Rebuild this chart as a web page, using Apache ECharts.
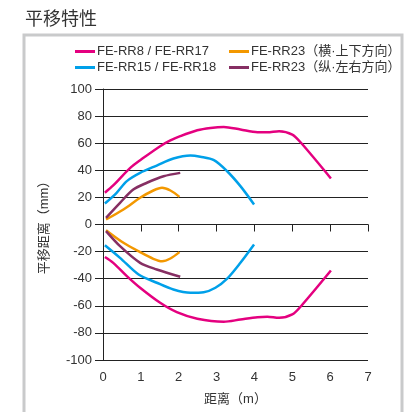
<!DOCTYPE html>
<html><head><meta charset="utf-8">
<script src="https://cdn.jsdelivr.net/npm/echarts@6/dist/echarts.min.js"></script>
<style>html,body{margin:0;padding:0;background:#fff}#c{width:419px;height:412px}</style>
</head><body><div id="c"></div>
<script>
const chartTitle = '平移特性';
const xTicks = [0,1,2,3,4,5,6,7];
const yTicks = [-100,-80,-60,-40,-20,0,20,40,60,80,100];
const seriesNames = ['FE-RR8 / FE-RR17','FE-RR15 / FE-RR18','FE-RR23（横·上下方向）','FE-RR23（纵·左右方向）'];
const seriesColors = ['#e4007f','#00a0e9','#f39800','#862f63'];

const rr8Upper = [[0.05,23.5],[0.27,28.8],[0.72,41.8],[1.07,49.2],[1.51,57.8],[1.78,62],[2.04,65.2],[2.49,69.6],[2.84,71.3],[3.19,72],[3.63,70.1],[4.08,68.1],[4.34,68.1],[4.65,68.9],[5.0,66.4],[5.23,60.3],[6.02,34]];
const rr8Lower = [[0.05,-24],[0.27,-28.3],[0.63,-38.1],[0.98,-46.7],[1.51,-57.8],[1.95,-64.7],[2.49,-69.6],[3.19,-71.8],[3.63,-70.1],[4.08,-68.4],[4.34,-68.1],[4.65,-68.9],[5.0,-66.4],[5.23,-60.3],[6.02,-34]];
const rr15Upper = [[0.05,15.5],[0.36,23.4],[0.63,32],[0.98,38.1],[1.42,43.5],[1.86,48.7],[2.31,50.9],[2.57,50],[2.93,47.5],[3.28,39.3],[3.63,28.3],[3.99,14.8]];
const rr15Lower = [[0.05,-15.3],[0.45,-24.6],[0.94,-36.9],[1.42,-43],[1.86,-48],[2.31,-50.4],[2.66,-50],[2.97,-46.7],[3.28,-40],[3.63,-28.3],[3.99,-14.8]];
const rr23hUpper = [[0.08,3.7],[0.54,11.1],[0.98,19.7],[1.33,25.1],[1.56,27.1],[1.78,25.1],[2.02,20.4]];
const rr23hLower = [[0.08,-4.2],[0.54,-13.5],[0.98,-20.4],[1.33,-25.3],[1.56,-27.1],[1.78,-25.1],[2.02,-20.4]];
const rr23vUpper = [[0.08,4.9],[0.45,16],[0.8,25.8],[1.16,30.8],[1.6,35.6],[2.04,38.1]];
const rr23vLower = [[0.08,-4.9],[0.45,-16],[0.98,-28.3],[1.42,-33.2],[2.04,-38.6]];

const branches = [
  [rr8Upper, rr8Lower],
  [rr15Upper, rr15Lower],
  [rr23hUpper, rr23hLower],
  [rr23vUpper, rr23vLower]
];

const font = '"Liberation Sans", "Noto Sans CJK SC", sans-serif';
const series = [];
branches.forEach((pair, i) => {
  pair.forEach(d => {
    series.push({
      name: seriesNames[i], type: 'line', data: d, smooth: 0.3, showSymbol: false, symbol: 'none',
      lineStyle: {color: seriesColors[i], width: 2.5}, itemStyle: {color: seriesColors[i]}, z: 5
    });
  });
});

const chart = echarts.init(document.getElementById('c'));
const legendCommon = {
  orient: 'vertical', itemWidth: 20, itemHeight: 3, itemGap: 3, icon: 'rect', padding: 0,
  textStyle: {fontSize: 13, color: '#333', fontFamily: font, padding: [0,0,0,-3]}
};
chart.setOption({
  animation: false,
  backgroundColor: '#fff',
  textStyle: {fontFamily: font},
  title: {text: chartTitle, left: 20, top: 6, textStyle: {fontSize: 18, fontWeight: 'normal', color: '#333', fontFamily: font}},
  graphic: [{type: 'rect', shape: {x: 24, y: 35, width: 378, height: 400}, style: {fill: 'none', stroke: '#c9cacb', lineWidth: 3}, z: -1}],
  legend: [
    Object.assign({left: 75, top: 45, data: [seriesNames[0], seriesNames[1]]}, legendCommon),
    Object.assign({left: 229, top: 45, data: [seriesNames[2], seriesNames[3]]}, legendCommon)
  ],
  grid: {left: 103, right: 51, top: 89, bottom: 52, containLabel: false},
  xAxis: {
    type: 'value', min: xTicks[0], max: xTicks[xTicks.length-1], interval: 1,
    name: '距离（m）', nameLocation: 'middle', nameGap: 33,
    nameTextStyle: {fontSize: 13, color: '#333', fontFamily: font},
    axisLine: {show: true, lineStyle: {color: '#222', width: 1}},
    axisTick: {show: true, length: 7, lineStyle: {color: '#222'}},
    axisLabel: {fontSize: 13, color: '#333', margin: 11},
    splitLine: {show: false}
  },
  yAxis: {
    type: 'value', min: yTicks[0], max: yTicks[yTicks.length-1], interval: 20,
    name: '平移距离（mm）', nameLocation: 'middle', nameGap: 52,
    nameTextStyle: {fontSize: 13, color: '#333', fontFamily: font},
    axisLine: {show: true, lineStyle: {color: '#222', width: 1}},
    axisTick: {show: true, length: 8, lineStyle: {color: '#222'}},
    axisLabel: {fontSize: 13, color: '#333', margin: 11},
    splitLine: {show: true, lineStyle: {color: '#222', width: 1}}
  },
  series: series
});
</script></body></html>
